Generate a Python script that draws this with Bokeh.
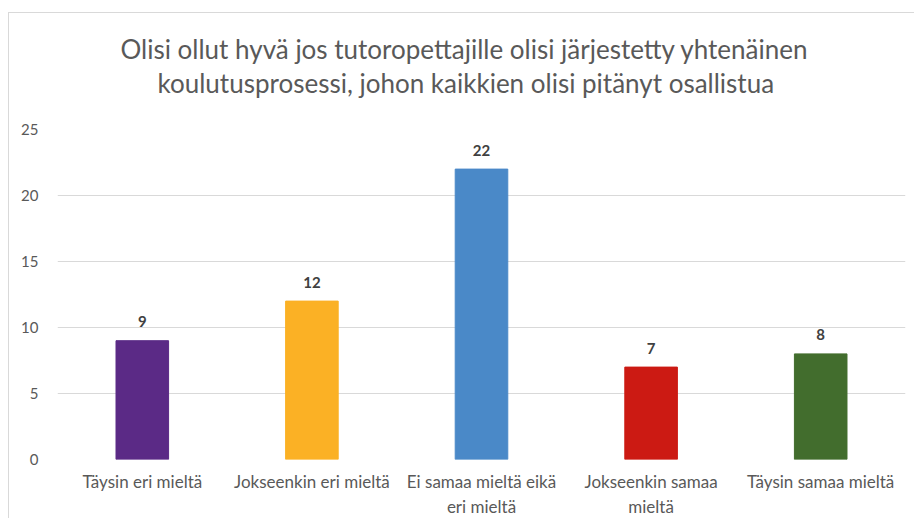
from bokeh.plotting import figure
from bokeh.models import ColumnDataSource, FactorRange, Range1d, FixedTicker, LabelSet, Title
from bokeh.core.properties import value
from bokeh.embed import file_html
from bokeh.resources import INLINE

title_lines = ["Olisi ollut hyvä jos tutoropettajille olisi järjestetty yhtenäinen",
               "koulutusprosessi,  johon kaikkien olisi pitänyt osallistua"]
categories = ["Täysin eri mieltä", "Jokseenkin eri mieltä", "Ei samaa mieltä eikä\neri mieltä",
              "Jokseenkin samaa\nmieltä", "Täysin samaa mieltä"]
counts = [9, 12, 22, 7, 8]
colors = ["#5B2A86", "#FBB125", "#4A89C8", "#CC1A13", "#426D2D"]
y_ticks = [0, 5, 10, 15, 20, 25]

FONT = "Lato"

src = ColumnDataSource(dict(cat=categories, val=counts, col=colors,
                            lab=[str(v) for v in counts]))

p = figure(x_range=FactorRange(*categories), y_range=Range1d(0, 25),
           width=906, height=506, output_backend="svg", toolbar_location=None,
           min_border_left=48, min_border_right=10, min_border_bottom=59, min_border_top=116)
p.margin = (12, 0, 0, 8)
p.styles = {"border-top": "1px solid #d9d9d9", "border-left": "1px solid #d9d9d9"}

p.vbar(x="cat", top="val", width=0.31, source=src, fill_color="col", line_color="col")

labels = LabelSet(x="cat", y="val", text="lab", source=src, text_align="center",
                  text_baseline="middle", y_offset=19, text_font=value(FONT),
                  text_font_size="15px", text_font_style="bold", text_color="#404040")
p.add_layout(labels)

spacer = Title(text=" ", text_font_size="10px", standoff=18)
t2 = Title(text=title_lines[1], align="left", offset=100, standoff=0,
           text_font=FONT, text_font_size="26px", text_font_style="normal", text_color="#595959")
t1 = Title(text=title_lines[0], align="left", offset=63, standoff=0,
           text_font=FONT, text_font_size="26px", text_font_style="normal", text_color="#595959")
p.add_layout(spacer, "above")
p.add_layout(t2, "above")
p.add_layout(t1, "above")

p.outline_line_color = None
p.xgrid.grid_line_color = None
p.ygrid.grid_line_color = "#d9d9d9"
p.ygrid.grid_line_width = 1
p.yaxis.ticker = FixedTicker(ticks=y_ticks)
p.yaxis.axis_line_color = None
p.yaxis.major_tick_line_color = None
p.yaxis.minor_tick_line_color = None
p.yaxis.major_tick_out = 0
p.yaxis.major_tick_in = 0
p.yaxis.major_label_standoff = 19
p.yaxis.major_label_text_font = FONT
p.yaxis.major_label_text_font_size = "15px"
p.yaxis.major_label_text_color = "#595959"
p.xaxis.axis_line_color = None
p.xaxis.major_tick_line_color = None
p.xaxis.major_tick_out = 0
p.xaxis.major_tick_in = 0
p.xaxis.major_label_standoff = 11
p.xaxis.major_label_text_font = FONT
p.xaxis.major_label_text_font_size = "17px"
p.xaxis.major_label_text_color = "#595959"

open("out.html", "w").write(file_html(p, INLINE))
